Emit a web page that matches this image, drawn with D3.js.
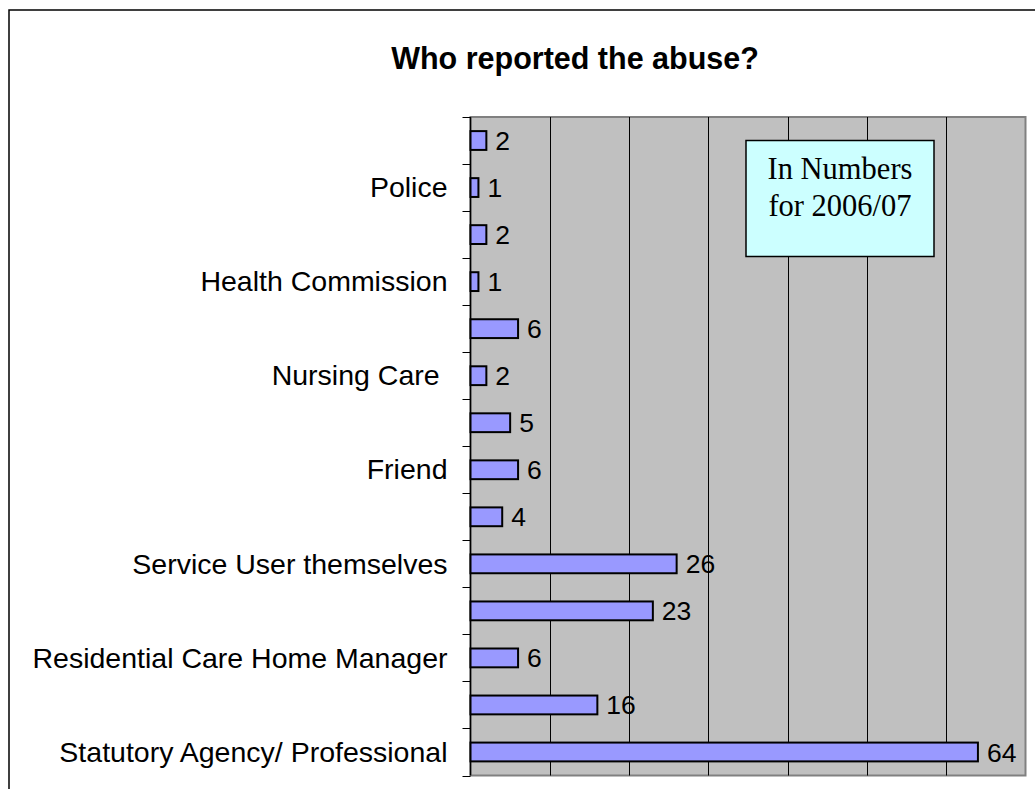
<!DOCTYPE html>
<html>
<head>
<meta charset="utf-8">
<script src="https://cdn.jsdelivr.net/npm/d3@7"></script>
<style>
  html, body { margin: 0; padding: 0; background: #fff; overflow: hidden; }
  svg { display: block; }
  text { white-space: pre; }
</style>
</head>
<body>
<svg id="chart"></svg>
<script>
const width = 1035;
const height = 789;

// categories top to bottom; every other label is hidden in the source chart
const categories = [
  "", "Police", "", "Health Commission", "", "Nursing Care ", "",
  "Friend", "", "Service User themselves", "",
  "Residential Care Home Manager", "", "Statutory Agency/ Professional"
];
const counts = [2, 1, 2, 1, 6, 2, 5, 6, 4, 26, 23, 6, 16, 64];
const xTicks = [0, 10, 20, 30, 40, 50, 60, 70];

const plot = { left: 470.5, top: 117, right: 1025.5, bottom: 775.5 };

const svg = d3.select("#chart").attr("width", width).attr("height", height);

// outer chart frame (runs off the right/bottom of the picture)
svg.append("path")
  .attr("d", `M9,${height + 5}V10H${width + 5}`)
  .attr("fill", "none")
  .attr("stroke", "#000")
  .attr("stroke-width", 1.5);

svg.append("text")
  .attr("x", 575)
  .attr("y", 69)
  .attr("text-anchor", "middle")
  .attr("font-family", "Arial, 'Liberation Sans', sans-serif")
  .attr("font-weight", "bold")
  .attr("font-size", 30.5)
  .text("Who reported the abuse?");

const x = d3.scaleLinear().domain([0, 70]).range([plot.left, plot.right]);
const y = d3.scaleBand()
  .domain(d3.range(categories.length))
  .range([plot.top, plot.bottom])
  .paddingInner(0.6)
  .paddingOuter(0.3);

// plot area
svg.append("rect")
  .attr("x", plot.left)
  .attr("y", plot.top)
  .attr("width", plot.right - plot.left)
  .attr("height", plot.bottom - plot.top)
  .attr("fill", "#c0c0c0")
  .attr("stroke", "#808080")
  .attr("stroke-width", 2);

// vertical gridlines
svg.append("g")
  .selectAll("line")
  .data(xTicks.slice(1, -1))
  .join("line")
  .attr("x1", (d) => Math.round(x(d)) + 0.5)
  .attr("x2", (d) => Math.round(x(d)) + 0.5)
  .attr("y1", plot.top)
  .attr("y2", plot.bottom)
  .attr("stroke", "#000")
  .attr("stroke-width", 1);

// category axis: ticks sit on band boundaries
const step = y.step();
const boundaries = d3.range(categories.length + 1).map((i) => plot.top + i * step);
const axisG = svg.append("g");
axisG.append("line")
  .attr("x1", plot.left).attr("x2", plot.left)
  .attr("y1", plot.top).attr("y2", plot.bottom)
  .attr("stroke", "#000").attr("stroke-width", 1.5);
axisG.selectAll(".tick")
  .data(boundaries)
  .join("line")
  .attr("class", "tick")
  .attr("x1", plot.left - 8).attr("x2", plot.left)
  .attr("y1", (d) => Math.round(d) + 0.5).attr("y2", (d) => Math.round(d) + 0.5)
  .attr("stroke", "#000").attr("stroke-width", 1);
axisG.selectAll(".cat")
  .data(categories)
  .join("text")
  .attr("class", "cat")
  .attr("x", plot.left - 23)
  .attr("y", (d, i) => y(i) + y.bandwidth() / 2)
  .attr("dy", "0.34em")
  .attr("text-anchor", "end")
  .attr("font-family", "Arial, 'Liberation Sans', sans-serif")
  .attr("font-size", 28.5)
  .text((d) => d);

// bars
svg.append("g")
  .selectAll("rect")
  .data(counts)
  .join("rect")
  .attr("x", x(0))
  .attr("y", (d, i) => y(i))
  .attr("width", (d) => x(d) - x(0))
  .attr("height", y.bandwidth())
  .attr("fill", "#9999ff")
  .attr("stroke", "#000")
  .attr("stroke-width", 2);

// value labels
svg.append("g")
  .selectAll("text")
  .data(counts)
  .join("text")
  .attr("x", (d) => x(d) + 9)
  .attr("y", (d, i) => y(i) + y.bandwidth() / 2)
  .attr("dy", "0.36em")
  .attr("font-family", "Arial, 'Liberation Sans', sans-serif")
  .attr("font-size", 26.5)
  .text((d) => d);

// note box
const note = svg.append("g");
note.append("rect")
  .attr("x", 746)
  .attr("y", 140.5)
  .attr("width", 188)
  .attr("height", 116)
  .attr("fill", "#ccffff")
  .attr("stroke", "#000")
  .attr("stroke-width", 1.5);
note.selectAll("text")
  .data(["In Numbers", "for 2006/07"])
  .join("text")
  .attr("x", 840)
  .attr("y", (d, i) => 179 + i * 37)
  .attr("text-anchor", "middle")
  .attr("font-family", "'Times New Roman', 'Liberation Serif', serif")
  .attr("font-size", 30.5)
  .text((d) => d);
</script>
</body>
</html>
